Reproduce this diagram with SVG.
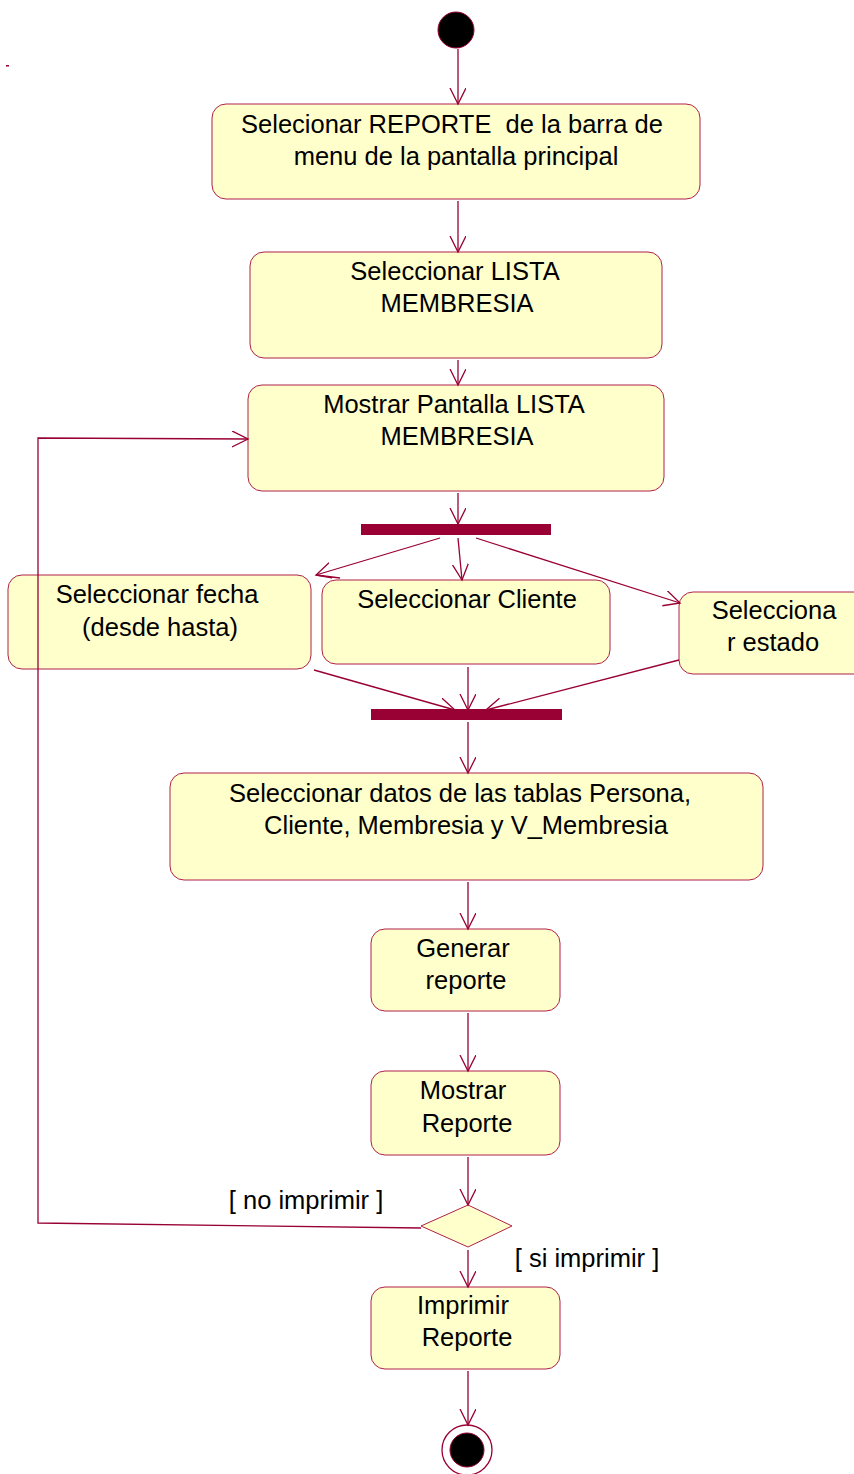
<svg xmlns="http://www.w3.org/2000/svg" width="854" height="1474" viewBox="0 0 854 1474">
<style>
.n{fill:#FFFFCC;stroke:#B0204A;stroke-width:1}
.t{font-family:"Liberation Sans",Arial,sans-serif;font-size:25.5px;fill:#000;text-anchor:middle;white-space:pre}
.c{fill:none;stroke:#990033;stroke-width:1.3}
.bar{fill:#990033}
</style>
<defs>
<marker id="a" markerWidth="20" markerHeight="20" refX="16" refY="8" orient="auto" markerUnits="userSpaceOnUse">
<path d="M0,0 L16,8 L0,16" fill="none" stroke="#990033" stroke-width="1.3"/>
</marker>
</defs>
<rect x="6" y="65" width="3" height="1.5" fill="#990033"/>
<g id="start"><circle cx="456" cy="30" r="18" fill="#000" stroke="#990033" stroke-width="1"/></g>
<g id="n1"><rect class="n" x="212" y="104" width="488" height="95" rx="14"/>
<text class="t" x="452" y="133" xml:space="preserve">Selecionar REPORTE  de la barra de</text>
<text class="t" x="456" y="165">menu de la pantalla principal</text></g>
<g id="n2"><rect class="n" x="250" y="252" width="412" height="106" rx="14"/>
<text class="t" x="455" y="280">Seleccionar LISTA</text>
<text class="t" x="457" y="312">MEMBRESIA</text></g>
<g id="n3"><rect class="n" x="248" y="385" width="416" height="106" rx="14"/>
<text class="t" x="454" y="413">Mostrar Pantalla LISTA</text>
<text class="t" x="457" y="445">MEMBRESIA</text></g>
<g id="fork"><rect class="bar" x="361" y="524" width="190" height="11"/></g>
<g id="n4"><rect class="n" x="8" y="575" width="303" height="94" rx="14"/>
<text class="t" x="157" y="603">Seleccionar fecha</text>
<text class="t" x="160" y="636">(desde hasta)</text></g>
<g id="n5"><rect class="n" x="322" y="580" width="288" height="84" rx="14"/>
<text class="t" x="467" y="608">Seleccionar Cliente</text></g>
<g id="n6"><rect class="n" x="679" y="592" width="190" height="82" rx="14"/>
<text class="t" x="774" y="619">Selecciona</text>
<text class="t" x="773" y="651">r estado</text></g>
<g id="join"><rect class="bar" x="371" y="709" width="191" height="11"/></g>
<g id="n7"><rect class="n" x="170" y="773" width="593" height="107" rx="14"/>
<text class="t" x="460" y="802">Seleccionar datos de las tablas Persona,</text>
<text class="t" x="466" y="834">Cliente, Membresia y V_Membresia</text></g>
<g id="n8"><rect class="n" x="371" y="929" width="189" height="82" rx="14"/>
<text class="t" x="463" y="957">Generar</text>
<text class="t" x="466" y="989">reporte</text></g>
<g id="n9"><rect class="n" x="371" y="1071" width="189" height="84" rx="14"/>
<text class="t" x="463" y="1099">Mostrar</text>
<text class="t" x="467" y="1132">Reporte</text></g>
<g id="dec"><polygon class="n" points="468,1205 512,1226 468,1247 421,1226"/></g>
<g id="n10"><rect class="n" x="371" y="1287" width="189" height="82" rx="14"/>
<text class="t" x="463" y="1314">Imprimir</text>
<text class="t" x="467" y="1346">Reporte</text></g>
<g id="end"><circle cx="467" cy="1450" r="25" fill="#fff" stroke="#990033" stroke-width="1.3"/><circle cx="467" cy="1450" r="17" fill="#000" stroke="#990033" stroke-width="1"/></g>
<g id="connectors">
<line class="c" x1="458" y1="49" x2="458" y2="104" marker-end="url(#a)"/>
<line class="c" x1="458" y1="201" x2="458" y2="252" marker-end="url(#a)"/>
<line class="c" x1="458" y1="360" x2="458" y2="385" marker-end="url(#a)"/>
<line class="c" x1="458" y1="493" x2="458" y2="524" marker-end="url(#a)"/>
<line class="c" x1="440" y1="538" x2="316" y2="575" marker-end="url(#a)"/>
<line class="c" x1="316" y1="575" x2="340" y2="578"/>
<line class="c" x1="458" y1="538" x2="462" y2="580" marker-end="url(#a)"/>
<line class="c" x1="476" y1="538" x2="680" y2="603" marker-end="url(#a)"/>
<line class="c" x1="314" y1="670" x2="455" y2="710" marker-end="url(#a)"/>
<line class="c" x1="468" y1="667" x2="468" y2="710" marker-end="url(#a)"/>
<line class="c" x1="679" y1="660" x2="486" y2="710" marker-end="url(#a)"/>
<line class="c" x1="468" y1="722" x2="468" y2="773" marker-end="url(#a)"/>
<line class="c" x1="468" y1="882" x2="468" y2="929" marker-end="url(#a)"/>
<line class="c" x1="468" y1="1013" x2="468" y2="1071" marker-end="url(#a)"/>
<line class="c" x1="468" y1="1157" x2="468" y2="1205" marker-end="url(#a)"/>
<line class="c" x1="468" y1="1250" x2="468" y2="1287" marker-end="url(#a)"/>
<line class="c" x1="468" y1="1371" x2="468" y2="1425" marker-end="url(#a)"/>
<polyline class="c" points="421,1228 38,1223 38,438 248,439" marker-end="url(#a)"/>
<text class="t" x="306" y="1209">[ no imprimir ]</text>
<text class="t" x="587" y="1267">[ si imprimir ]</text>
</g>
</svg>
